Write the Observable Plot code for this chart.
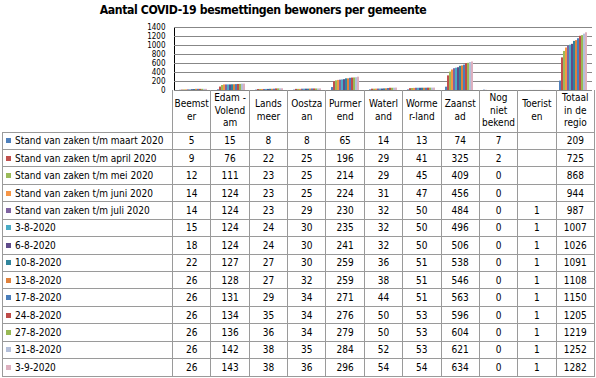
<!DOCTYPE html>
<html><head><meta charset="utf-8">
<script src="https://cdn.jsdelivr.net/npm/d3@7"></script>
<script src="https://cdn.jsdelivr.net/npm/@observablehq/plot@0.6"></script>
<style>
body{margin:0;background:#fff;width:596px;height:378px;position:relative;overflow:hidden;font-family:"DejaVu Sans Condensed","DejaVu Sans",sans-serif;color:#000;}
#title{position:absolute;top:3px;left:0;width:526px;text-align:center;font-weight:bold;font-size:12.2px;letter-spacing:-0.4px;white-space:nowrap;}
#chart{position:absolute;top:20px;left:0;}
#tbl{position:absolute;top:90px;left:2px;border-collapse:collapse;table-layout:fixed;font-size:10px;width:592px;}
#tbl td{border:1px solid #9a9a9a;padding:0;text-align:center;vertical-align:middle;overflow:hidden;white-space:nowrap;}
#tbl tr.hdr td{border-top:none;line-height:12.5px;white-space:pre;}
#tbl tr.hdr td.corner{border:none;}
#tbl td.leg{text-align:left;padding-left:3px;}
#tbl td.leg span.sw{display:inline-block;width:5px;height:5px;margin-right:4px;vertical-align:1px;}
</style>
</head><body>
<div id="title"></div>
<div id="chart"></div>
<table id="tbl"></table>
<script>
const titleText = "Aantal COVID-19  besmettingen bewoners per gemeente";
const categories = ["Beemster","Edam-Volendam","Landsmeer","Oostzaan","Purmerend","Waterland","Wormerland","Zaanstad","Nog niet bekend","Toeristen","Totaal in de regio"];
const headerLabels = ["Beemst\ner","Edam -\nVolend\nam","Lands\nmeer","Oostza\nan","Purmer\nend","Waterl\nand","Worme\nr-land","Zaanst\nad","Nog\nniet\nbekend","Toerist\nen","Totaal\nin de\nregio"];
const seriesNames = ["Stand van zaken t/m maart 2020","Stand van zaken t/m april 2020","Stand van zaken t/m mei 2020","Stand van zaken t/m juni 2020","Stand van zaken t/m juli 2020","3-8-2020","6-8-2020","10-8-2020","13-8-2020","17-8-2020","24-8-2020","27-8-2020","31-8-2020","3-9-2020"];
const seriesColors = ["#4F81BD","#C0504D","#9BBB59","#F79646","#8064A2","#4BACC6","#5F4B8B","#31859C","#E0823C","#4A7EBB","#BE4B48","#98B954","#B4C0DA","#DDB0BF"];
const yTicks = [0,200,400,600,800,1000,1200,1400];

const maart2020 = [5,15,8,8,65,14,13,74,7,null,209];
const april2020 = [9,76,22,25,196,29,41,325,2,null,725];
const mei2020   = [12,111,23,25,214,29,45,409,0,null,868];
const juni2020  = [14,124,23,25,224,31,47,456,0,null,944];
const juli2020  = [14,124,23,29,230,32,50,484,0,1,987];
const d03_08    = [15,124,24,30,235,32,50,496,0,1,1007];
const d06_08    = [18,124,24,30,241,32,50,506,0,1,1026];
const d10_08    = [22,127,27,30,259,36,51,538,0,1,1091];
const d13_08    = [26,128,27,32,259,38,51,546,0,1,1108];
const d17_08    = [26,131,29,34,271,44,51,563,0,1,1150];
const d24_08    = [26,134,35,34,276,50,53,596,0,1,1205];
const d27_08    = [26,136,36,34,279,50,53,604,0,1,1219];
const d31_08    = [26,142,38,35,284,52,53,621,0,1,1252];
const d03_09    = [26,143,38,36,296,54,54,634,0,1,1282];
const seriesValues = [maart2020,april2020,mei2020,juni2020,juli2020,d03_08,d06_08,d10_08,d13_08,d17_08,d24_08,d27_08,d31_08,d03_09];

document.getElementById("title").textContent = titleText;

const rows = seriesValues.flatMap((vals, si) => vals.map((v, ci) => ({series: seriesNames[si], si, category: categories[ci], value: v}))).filter(d => d.value != null);

const chart = Plot.plot({
  width: 596, height: 72,
  marginTop: 7, marginBottom: 2, marginLeft: 172, marginRight: 2,
  style: {fontFamily: '"DejaVu Sans Condensed","DejaVu Sans",sans-serif', fontSize: "8px", background: "transparent", overflow: "visible", color: "#000"},
  fx: {domain: categories, padding: 0, axis: null, label: null},
  x: {domain: d3.range(seriesNames.length), paddingInner: 0, paddingOuter: 0.47, axis: null},
  y: {domain: [0, 1400], ticks: yTicks.length - 1, tickFormat: d3.format("d"), tickSize: 0, tickPadding: 9, label: null, line: true},
  color: {domain: seriesNames, range: seriesColors},
  marks: [
    Plot.ruleY(yTicks, {stroke: "#878787"}),
    Plot.barY(rows, {fx: "category", x: "si", y: "value", fill: "series"})
  ]
});
document.getElementById("chart").appendChild(chart);

// data table
const tbl = document.getElementById("tbl");
const cg = document.createElement("colgroup");
const c0 = document.createElement("col"); c0.style.width = "170px"; cg.appendChild(c0);
categories.forEach(() => { const c = document.createElement("col"); c.style.width = (422 / categories.length) + "px"; cg.appendChild(c); });
tbl.appendChild(cg);
const hr = document.createElement("tr"); hr.className = "hdr"; hr.style.height = "42px";
const corner = document.createElement("td"); corner.className = "corner"; hr.appendChild(corner);
headerLabels.forEach(h => { const td = document.createElement("td"); td.textContent = h; hr.appendChild(td); });
tbl.appendChild(hr);
seriesNames.forEach((name, si) => {
  const tr = document.createElement("tr"); tr.style.height = "17.45px";
  const lg = document.createElement("td"); lg.className = "leg";
  const sw = document.createElement("span"); sw.className = "sw"; sw.style.background = seriesColors[si];
  lg.appendChild(sw); lg.appendChild(document.createTextNode(name));
  tr.appendChild(lg);
  seriesValues[si].forEach(v => { const td = document.createElement("td"); td.textContent = v == null ? "" : v; tr.appendChild(td); });
  tbl.appendChild(tr);
});
</script>
</body></html>
